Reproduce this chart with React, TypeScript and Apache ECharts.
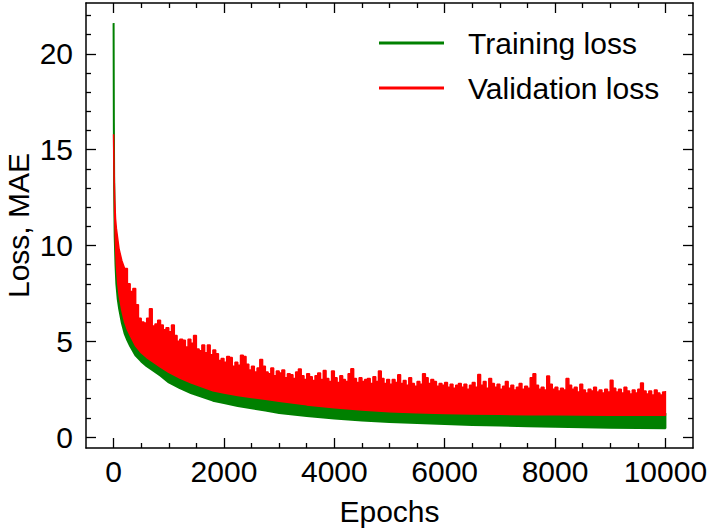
import React, { useEffect, useRef } from "react";
import * as echarts from "echarts";

const FONT = "Liberation Sans, Arial, Helvetica, sans-serif";
const GREEN = "#008000";
const RED = "#ff0000";

const X_MIN = -500;
const X_MAX = 10500;
const Y_MIN = -0.57;
const Y_MAX = 22.65;

const xMajorTicks = [0, 2000, 4000, 6000, 8000, 10000];
const xMinorTicks = [500, 1000, 1500, 2500, 3000, 3500, 4500, 5000, 5500, 6500, 7000, 7500, 8500, 9000, 9500];
const yMajorTicks = [0, 5, 10, 15, 20];
const yMinorTicks = [1, 2, 3, 4, 6, 7, 8, 9, 11, 12, 13, 14, 16, 17, 18, 19, 21, 22];

// envelope sample epochs (lower / upper edges of the noisy bands)
const envEpochs = [0, 5, 10, 20, 35, 50, 75, 100, 150, 200, 250, 300, 400, 500, 600, 700, 850, 1000, 1200, 1400, 1600, 1800, 2000, 2250, 2500, 2750, 3000, 3500, 4000, 4500, 5000, 5500, 6000, 6500, 7000, 7500, 8000, 8500, 9000, 9500, 10000];

const trainLow = [21.6, 16, 13, 10.5, 9.0, 8.0, 7.2, 6.7, 5.95, 5.4, 5.05, 4.75, 4.25, 3.95, 3.7, 3.5, 3.2, 2.85, 2.55, 2.3, 2.1, 1.9, 1.78, 1.62, 1.5, 1.38, 1.26, 1.1, 0.97, 0.87, 0.79, 0.73, 0.68, 0.63, 0.6, 0.57, 0.54, 0.51, 0.49, 0.47, 0.46];
const trainHigh = [21.6, 16.4, 13.6, 11.6, 10.1, 9.1, 8.1, 7.5, 6.7, 6.1, 5.7, 5.4, 4.85, 4.5, 4.25, 4.05, 3.75, 3.48, 3.18, 2.93, 2.72, 2.52, 2.4, 2.27, 2.17, 2.07, 1.97, 1.78, 1.63, 1.51, 1.42, 1.37, 1.33, 1.31, 1.29, 1.27, 1.26, 1.25, 1.24, 1.24, 1.24];
const valLow = [15.8, 14.5, 13.3, 11.5, 10.0, 9.0, 8.0, 7.4, 6.6, 6.0, 5.6, 5.3, 4.75, 4.4, 4.15, 3.95, 3.65, 3.38, 3.08, 2.83, 2.62, 2.42, 2.3, 2.17, 2.07, 1.97, 1.87, 1.68, 1.53, 1.41, 1.32, 1.27, 1.23, 1.21, 1.19, 1.17, 1.16, 1.15, 1.14, 1.14, 1.14];

// validation upper (spiky) edge
const valUpperEarlyEpochs = [0, 10, 20, 35];
const valUpperEarly = [15.8, 13.6, 12.4, 11.4];
const VAL_GRID_START = 50;
const VAL_GRID_STEP = 50;
const valUpperGrid = [
  10.9, 9.8, 9.2, 8.8, 8.0, 7.6, 7.75, 6.9, 6.2, 6.0,
  5.95, 6.2, 6.7, 5.8, 5.9, 6.1, 5.85, 5.6, 5.7, 5.5,
  5.85, 5.3, 5.0, 5.1, 5.05, 4.7, 5.1, 4.9, 5.3, 4.6,
  4.5, 4.8, 4.4, 4.8, 4.3, 4.55, 4.35, 4.0, 4.1, 3.9,
  4.2, 4.15, 3.7, 3.9, 3.75, 4.27, 4.2, 3.8, 3.5, 3.7,
  3.4, 3.6, 4.05, 3.7, 3.4, 3.3, 3.6, 3.2, 3.45, 3.35,
  3.5, 3.1, 3.3, 3.25, 3.05, 3.4, 3.55, 3.2, 3.0, 3.3,
  3.15, 2.95, 3.2, 3.35, 3.0, 3.48, 3.05, 2.9, 3.45, 3.1,
  2.85, 3.2, 3.0, 2.9, 3.3, 3.57, 3.05, 2.85, 3.1, 2.9,
  3.0, 3.05, 2.8, 3.15, 2.9, 3.45, 3.05, 2.8, 3.0, 2.75,
  3.0, 2.85, 3.25, 2.8, 2.95, 2.7, 3.1, 2.8, 2.65, 2.9,
  2.75, 3.3, 3.1, 2.8, 3.0, 2.9, 2.65, 2.8, 2.7, 2.85,
  2.6, 2.75, 2.55, 2.7, 2.8, 2.6, 2.75, 2.5, 2.7, 2.85,
  2.6, 3.27, 2.7, 2.9, 2.55, 3.05, 2.8, 2.6, 2.75, 2.5,
  2.65, 2.9, 2.55, 2.7, 2.45, 2.6, 2.8, 2.5, 2.65, 2.55,
  3.1, 3.31, 2.7, 2.5, 2.6, 2.45, 3.19, 2.75, 2.5, 2.6,
  2.4, 2.55, 2.45, 3.05, 2.7, 2.5, 2.6, 2.35, 2.75, 2.45,
  2.3, 2.5, 2.4, 2.6, 2.35, 2.45, 2.3, 2.5, 2.35, 2.96,
  2.55, 2.35, 2.5, 2.3, 2.6, 2.4, 2.25, 2.45, 2.3, 2.5,
  2.82, 2.4, 2.25, 2.4, 2.2, 2.45, 2.3, 2.2, 2.35, 2.4,
];

const valUpperEpochs = [
  ...valUpperEarlyEpochs,
  ...valUpperGrid.map((_, i) => VAL_GRID_START + i * VAL_GRID_STEP),
];
const valUpper = [...valUpperEarly, ...valUpperGrid];

const legendNames = ["Training loss", "Validation loss"];

// Draws the band between an upper and a lower edge; the upper edge may be drawn
// as held steps (each value kept until the next sample), like a dense noisy trace.
function bandRender(
  upX: number[], upY: number[], loX: number[], loY: number[],
  color: string, lw: number, stepFrom: number
) {
  return (params: any, api: any) => {
    if (params.dataIndex !== 0) return null;
    const pts: number[][] = [];
    for (let i = 0; i < upX.length; i++) {
      pts.push(api.coord([upX[i], upY[i]]));
      if (upX[i] >= stepFrom && i + 1 < upX.length) {
        pts.push(api.coord([upX[i + 1], upY[i]]));
      }
    }
    for (let i = loX.length - 1; i >= 0; i--) pts.push(api.coord([loX[i], loY[i]]));
    return {
      type: "polygon",
      shape: { points: pts },
      style: { fill: color, stroke: color, lineWidth: lw, lineJoin: "bevel" },
    };
  };
}

function makeX(position: string, ticks: number[], len: number, main: boolean) {
  return {
    type: "value",
    position,
    min: X_MIN,
    max: X_MAX,
    axisLine: { show: main, onZero: false, lineStyle: { color: "#000", width: 1.5 } },
    axisTick: { show: true, inside: true, length: len, customValues: ticks, lineStyle: { color: "#000", width: 1.3 } },
    axisLabel: main && position === "bottom"
      ? { show: true, customValues: ticks, fontSize: 30, color: "#000", fontFamily: FONT, margin: 8, formatter: (v: number) => String(v) }
      : { show: false },
    splitLine: { show: false },
    minorTick: { show: false },
    ...(main && position === "bottom"
      ? { name: "Epochs", nameLocation: "middle", nameGap: 48, nameMoveOverlap: false, nameTextStyle: { fontSize: 30, color: "#000", fontFamily: FONT } }
      : {}),
  };
}

function makeY(position: string, ticks: number[], len: number, main: boolean) {
  return {
    type: "value",
    position,
    min: Y_MIN,
    max: Y_MAX,
    axisLine: { show: main, onZero: false, lineStyle: { color: "#000", width: 1.5 } },
    axisTick: { show: true, inside: true, length: len, customValues: ticks, lineStyle: { color: "#000", width: 1.3 } },
    axisLabel: main && position === "left"
      ? { show: true, customValues: ticks, fontSize: 30, color: "#000", fontFamily: FONT, margin: 13, formatter: (v: number) => String(v) }
      : { show: false },
    splitLine: { show: false },
    minorTick: { show: false },
    ...(main && position === "left"
      ? { name: "Loss, MAE", nameLocation: "middle", nameRotate: 90, nameGap: 53, nameMoveOverlap: false, nameTextStyle: { fontSize: 30, lineHeight: 30, color: "#000", fontFamily: FONT } }
      : {}),
  };
}

export default function App() {
  const ref = useRef<HTMLDivElement>(null);
  useEffect(() => {
    if (!ref.current) return;
    const chart = echarts.init(ref.current, undefined, { renderer: "svg" });
    chart.setOption({
      animation: false,
      backgroundColor: "#fff",
      grid: { left: 86, right: 18, top: 3, bottom: 80, outerBoundsMode: "none" },
      legend: {
        show: true,
        orient: "vertical",
        left: 379,
        top: 28,
        padding: 0,
        itemWidth: 65,
        itemHeight: 3,
        itemGap: 15,
        icon: "rect",
        selectedMode: false,
        data: legendNames,
        textStyle: { fontSize: 30, lineHeight: 30, color: "#000", fontFamily: FONT, padding: [0, 0, 0, 19] },
      },
      xAxis: [
        makeX("bottom", xMajorTicks, 10, true),
        makeX("bottom", xMinorTicks, 5, false),
        makeX("top", xMajorTicks, 10, true),
        makeX("top", xMinorTicks, 5, false),
      ],
      yAxis: [
        makeY("left", yMajorTicks, 10, true),
        makeY("left", yMinorTicks, 5, false),
        makeY("right", yMajorTicks, 10, true),
        makeY("right", yMinorTicks, 5, false),
      ],
      series: [
        {
          type: "custom",
          name: legendNames[0],
          xAxisIndex: 0,
          yAxisIndex: 0,
          itemStyle: { color: GREEN },
          clip: true,
          data: envEpochs.map((e, i) => [e, trainLow[i]]),
          renderItem: bandRender(envEpochs, trainHigh, envEpochs, trainLow, GREEN, 2, Infinity),
        },
        {
          type: "custom",
          name: legendNames[1],
          xAxisIndex: 0,
          yAxisIndex: 0,
          itemStyle: { color: RED },
          clip: true,
          data: valUpperEpochs.map((e, i) => [e, valUpper[i]]),
          renderItem: bandRender(valUpperEpochs, valUpper, envEpochs, valLow, RED, 1.5, 200),
        },
      ],
    });
    return () => chart.dispose();
  }, []);
  return (
    <div
      ref={ref}
      style={{ position: "fixed", left: 0, top: 0, width: 711, height: 528, background: "#fff" }}
    />
  );
}
